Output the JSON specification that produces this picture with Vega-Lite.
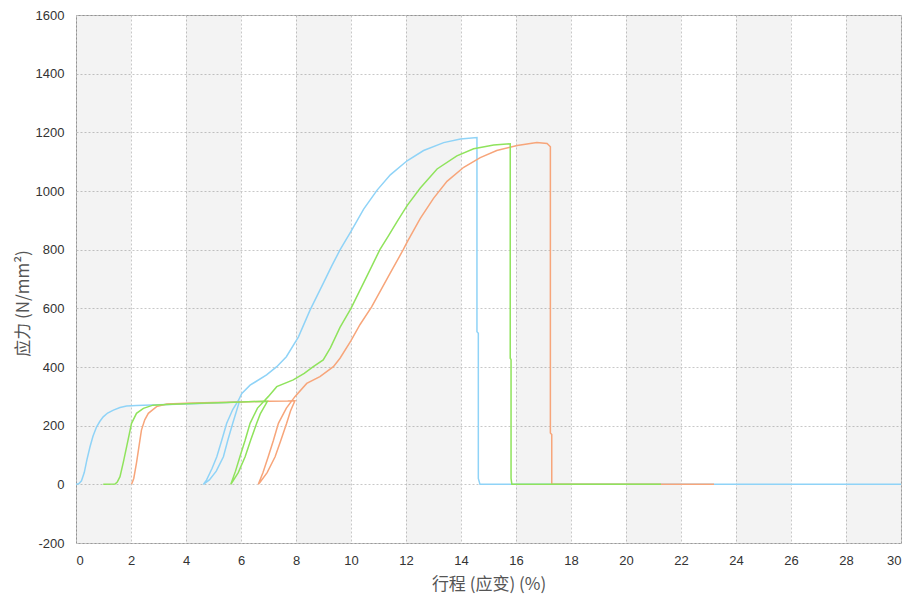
{
  "$schema": "https://vega.github.io/schema/vega-lite/v6.json",
  "width": 825,
  "height": 528,
  "autosize": {"type": "none"},
  "padding": {"left": 76, "top": 15, "right": 11, "bottom": 63},
  "background": "white",
  "config": {
    "view": {"stroke": "#9a9a9a", "strokeWidth": 1},
    "axis": {
      "labelFont": "Liberation Sans",
      "labelFontSize": 13,
      "labelColor": "#333",
      "labelExpr": "'' + datum.value",
      "titleFont": "Noto Sans CJK SC",
      "titleFontSize": 17,
      "titleFontWeight": "normal",
      "titleColor": "#555",
      "grid": true,
      "gridColor": "#c8c8c8",
      "gridDash": [2, 2],
      "gridWidth": 1,
      "domain": false,
      "ticks": false
    }
  },
  "layer": [
    {
      "data": {"values": [
        {"a": 0, "b": 2}, {"a": 4, "b": 6}, {"a": 8, "b": 10}, {"a": 12, "b": 14},
        {"a": 16, "b": 18}, {"a": 20, "b": 22}, {"a": 24, "b": 26}, {"a": 28, "b": 30}
      ]},
      "mark": {"type": "rect", "fill": "#000", "fillOpacity": 0.048},
      "encoding": {
        "x": {"field": "a", "type": "quantitative", "scale": {"domain": [0, 30], "nice": false},
              "axis": {"values": [0,2,4,6,8,10,12,14,16,18,20,22,24,26,28,30], "labelPadding": 11, "title": "行程 (应变) (%)", "titlePadding": 9}},
        "x2": {"field": "b"}
      }
    },
    {
      "data": {"values": [
        {"s": "试样1", "x": 0, "y": 0}, {"s": "试样1", "x": 0.1, "y": 2}, {"s": "试样1", "x": 0.2, "y": 12}, {"s": "试样1", "x": 0.3, "y": 40},
        {"s": "试样1", "x": 0.4, "y": 85}, {"s": "试样1", "x": 0.51, "y": 128}, {"s": "试样1", "x": 0.62, "y": 165}, {"s": "试样1", "x": 0.75, "y": 196},
        {"s": "试样1", "x": 0.87, "y": 215}, {"s": "试样1", "x": 0.99, "y": 230}, {"s": "试样1", "x": 1.15, "y": 243}, {"s": "试样1", "x": 1.36, "y": 253},
        {"s": "试样1", "x": 1.6, "y": 262}, {"s": "试样1", "x": 1.84, "y": 267}, {"s": "试样1", "x": 2.2, "y": 269}, {"s": "试样1", "x": 3.0, "y": 271},
        {"s": "试样1", "x": 4.0, "y": 274}, {"s": "试样1", "x": 5.0, "y": 277}, {"s": "试样1", "x": 5.5, "y": 279}, {"s": "试样1", "x": 5.94, "y": 282},
        {"s": "试样1", "x": 5.82, "y": 245}, {"s": "试样1", "x": 5.7, "y": 208}, {"s": "试样1", "x": 5.52, "y": 150}, {"s": "试样1", "x": 5.36, "y": 94},
        {"s": "试样1", "x": 5.1, "y": 45}, {"s": "试样1", "x": 4.85, "y": 15}, {"s": "试样1", "x": 4.63, "y": 0},
        {"s": "试样1", "x": 4.75, "y": 15}, {"s": "试样1", "x": 4.95, "y": 55}, {"s": "试样1", "x": 5.12, "y": 94}, {"s": "试样1", "x": 5.3, "y": 150},
        {"s": "试样1", "x": 5.48, "y": 208}, {"s": "试样1", "x": 5.7, "y": 255}, {"s": "试样1", "x": 5.9, "y": 285}, {"s": "试样1", "x": 6.03, "y": 310},
        {"s": "试样1", "x": 6.33, "y": 338}, {"s": "试样1", "x": 6.93, "y": 373}, {"s": "试样1", "x": 7.3, "y": 401}, {"s": "试样1", "x": 7.65, "y": 435},
        {"s": "试样1", "x": 8.09, "y": 503}, {"s": "试样1", "x": 8.51, "y": 594}, {"s": "试样1", "x": 8.99, "y": 685}, {"s": "试样1", "x": 9.3, "y": 745},
        {"s": "试样1", "x": 9.6, "y": 799}, {"s": "试样1", "x": 10.0, "y": 862}, {"s": "试样1", "x": 10.46, "y": 938}, {"s": "试样1", "x": 10.95, "y": 1003},
        {"s": "试样1", "x": 11.43, "y": 1055}, {"s": "试样1", "x": 12.04, "y": 1103}, {"s": "试样1", "x": 12.64, "y": 1138}, {"s": "试样1", "x": 13.37, "y": 1165},
        {"s": "试样1", "x": 13.98, "y": 1177}, {"s": "试样1", "x": 14.58, "y": 1182}, {"s": "试样1", "x": 14.58, "y": 520}, {"s": "试样1", "x": 14.63, "y": 515},
        {"s": "试样1", "x": 14.63, "y": 20}, {"s": "试样1", "x": 14.69, "y": 0}, {"s": "试样1", "x": 30, "y": 0},

        {"s": "试样3", "x": 2.02, "y": 0}, {"s": "试样3", "x": 2.1, "y": 20}, {"s": "试样3", "x": 2.2, "y": 73}, {"s": "试样3", "x": 2.3, "y": 135},
        {"s": "试样3", "x": 2.38, "y": 185}, {"s": "试样3", "x": 2.5, "y": 220}, {"s": "试样3", "x": 2.63, "y": 242}, {"s": "试样3", "x": 2.93, "y": 265},
        {"s": "试样3", "x": 3.3, "y": 274}, {"s": "试样3", "x": 4.0, "y": 276}, {"s": "试样3", "x": 5.0, "y": 279}, {"s": "试样3", "x": 6.0, "y": 281},
        {"s": "试样3", "x": 7.0, "y": 283}, {"s": "试样3", "x": 7.7, "y": 284}, {"s": "试样3", "x": 7.96, "y": 285},
        {"s": "试样3", "x": 7.8, "y": 250}, {"s": "试样3", "x": 7.66, "y": 208}, {"s": "试样3", "x": 7.45, "y": 150}, {"s": "试样3", "x": 7.24, "y": 94},
        {"s": "试样3", "x": 6.95, "y": 40}, {"s": "试样3", "x": 6.7, "y": 8}, {"s": "试样3", "x": 6.63, "y": 0},
        {"s": "试样3", "x": 6.8, "y": 40}, {"s": "试样3", "x": 6.99, "y": 94}, {"s": "试样3", "x": 7.18, "y": 150}, {"s": "试样3", "x": 7.36, "y": 208},
        {"s": "试样3", "x": 7.65, "y": 260}, {"s": "试样3", "x": 7.96, "y": 299}, {"s": "试样3", "x": 8.39, "y": 344}, {"s": "试样3", "x": 8.87, "y": 367},
        {"s": "试样3", "x": 9.36, "y": 401}, {"s": "试样3", "x": 9.6, "y": 430}, {"s": "试样3", "x": 10.0, "y": 490}, {"s": "试样3", "x": 10.33, "y": 545},
        {"s": "试样3", "x": 10.75, "y": 605}, {"s": "试样3", "x": 11.42, "y": 719}, {"s": "试样3", "x": 11.9, "y": 800}, {"s": "试样3", "x": 12.04, "y": 826},
        {"s": "试样3", "x": 12.52, "y": 907}, {"s": "试样3", "x": 13.0, "y": 975}, {"s": "试样3", "x": 13.49, "y": 1033}, {"s": "试样3", "x": 14.1, "y": 1081},
        {"s": "试样3", "x": 14.7, "y": 1114}, {"s": "试样3", "x": 15.3, "y": 1138}, {"s": "试样3", "x": 16.04, "y": 1155}, {"s": "试样3", "x": 16.76, "y": 1165},
        {"s": "试样3", "x": 17.13, "y": 1162}, {"s": "试样3", "x": 17.25, "y": 1151}, {"s": "试样3", "x": 17.25, "y": 175}, {"s": "试样3", "x": 17.3, "y": 170},
        {"s": "试样3", "x": 17.3, "y": 0}, {"s": "试样3", "x": 23.2, "y": 0},

        {"s": "试样2", "x": 0.99, "y": 0}, {"s": "试样2", "x": 1.42, "y": 1}, {"s": "试样2", "x": 1.5, "y": 8}, {"s": "试样2", "x": 1.6, "y": 26},
        {"s": "试样2", "x": 1.72, "y": 75}, {"s": "试样2", "x": 1.84, "y": 128}, {"s": "试样2", "x": 2.02, "y": 208}, {"s": "试样2", "x": 2.2, "y": 242},
        {"s": "试样2", "x": 2.45, "y": 259}, {"s": "试样2", "x": 2.8, "y": 270}, {"s": "试样2", "x": 3.5, "y": 273}, {"s": "试样2", "x": 4.5, "y": 276},
        {"s": "试样2", "x": 5.5, "y": 279}, {"s": "试样2", "x": 6.5, "y": 282}, {"s": "试样2", "x": 6.96, "y": 283},
        {"s": "试样2", "x": 6.7, "y": 240}, {"s": "试样2", "x": 6.57, "y": 208}, {"s": "试样2", "x": 6.35, "y": 150}, {"s": "试样2", "x": 6.15, "y": 94},
        {"s": "试样2", "x": 5.9, "y": 40}, {"s": "试样2", "x": 5.7, "y": 10}, {"s": "试样2", "x": 5.63, "y": 0},
        {"s": "试样2", "x": 5.8, "y": 45}, {"s": "试样2", "x": 5.96, "y": 94}, {"s": "试样2", "x": 6.15, "y": 150}, {"s": "试样2", "x": 6.33, "y": 208},
        {"s": "试样2", "x": 6.6, "y": 260}, {"s": "试样2", "x": 6.85, "y": 285}, {"s": "试样2", "x": 6.99, "y": 299}, {"s": "试样2", "x": 7.3, "y": 333},
        {"s": "试样2", "x": 7.9, "y": 356}, {"s": "试样2", "x": 8.3, "y": 378}, {"s": "试样2", "x": 8.63, "y": 401}, {"s": "试样2", "x": 8.99, "y": 424},
        {"s": "试样2", "x": 9.25, "y": 465}, {"s": "试样2", "x": 9.6, "y": 535}, {"s": "试样2", "x": 10.0, "y": 600}, {"s": "试样2", "x": 10.57, "y": 708},
        {"s": "试样2", "x": 11.05, "y": 800}, {"s": "试样2", "x": 11.35, "y": 845}, {"s": "试样2", "x": 11.67, "y": 895}, {"s": "试样2", "x": 12.04, "y": 950},
        {"s": "试样2", "x": 12.52, "y": 1010}, {"s": "试样2", "x": 13.13, "y": 1075}, {"s": "试样2", "x": 13.85, "y": 1120}, {"s": "试样2", "x": 14.46, "y": 1144},
        {"s": "试样2", "x": 15.19, "y": 1157}, {"s": "试样2", "x": 15.79, "y": 1161}, {"s": "试样2", "x": 15.79, "y": 430}, {"s": "试样2", "x": 15.82, "y": 425},
        {"s": "试样2", "x": 15.82, "y": 20}, {"s": "试样2", "x": 15.85, "y": 0}, {"s": "试样2", "x": 21.27, "y": 0}
      ]},
      "mark": {"type": "line", "strokeWidth": 1.5, "clip": true},
      "encoding": {
        "x": {"field": "x", "type": "quantitative"},
        "y": {"field": "y", "type": "quantitative", "scale": {"domain": [-200, 1600], "nice": false},
              "axis": {"values": [-200,0,200,400,600,800,1000,1200,1400,1600], "labelPadding": 12, "title": "应力 (N/mm²)", "titlePadding": 3, "titleY": 288}},
        "color": {"field": "s", "type": "nominal", "legend": null,
                  "scale": {"domain": ["试样1", "试样2", "试样3"], "range": ["#8fd3f7", "#8fe35c", "#f7a57a"]}},
        "order": {"value": null}
      }
    }
  ]
}
